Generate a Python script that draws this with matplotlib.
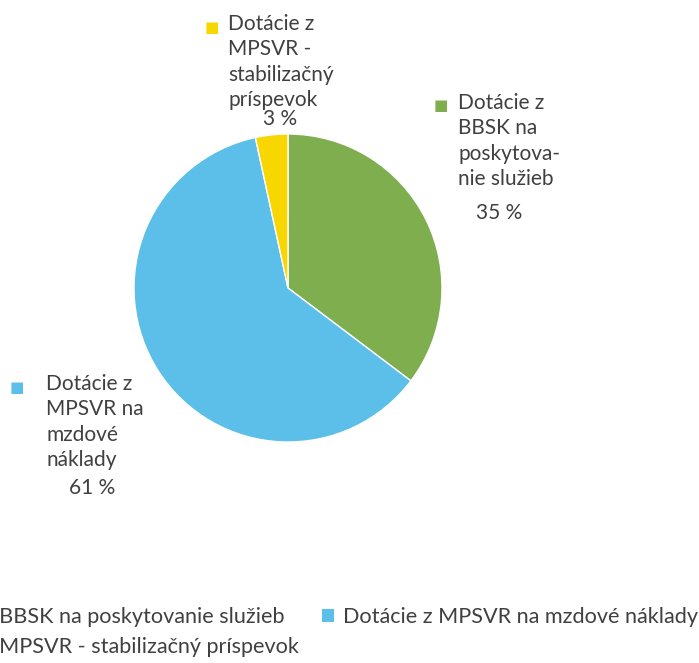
import matplotlib
matplotlib.use('Agg')
import matplotlib.pyplot as plt
from matplotlib import rcParams
from matplotlib.patches import Patch

rcParams['font.family'] = ['Lato', 'DejaVu Sans']
rcParams['font.size'] = 15

#%% data
names = ['Dotácie z BBSK na poskytovanie služieb',
         'Dotácie z MPSVR na mzdové náklady',
         'Dotácie z MPSVR - stabilizačný príspevok']
label_lines = ['Dotácie z\nBBSK na\nposkytova-\nnie služieb',
               'Dotácie z\nMPSVR na\nmzdové\nnáklady',
               'Dotácie z\nMPSVR -\nstabilizačný\npríspevok']
shares = [35.3, 61.3, 3.4]
colors = ['#7fae4f', '#5bbfe9', '#f8d700']
txt_col = '#404040'

W, H = 699, 663
fig = plt.figure(figsize=(W / 100, H / 100), dpi=100)

def px(x, y):
      # pixel (top-left origin) -> figure fraction
      return x / W, 1 - y / H

# pie axes: centre (288, 288), radius 154 px
cx, cy, r = 288, 288, 154
ax = fig.add_axes([(cx - r) / W, (H - cy - r) / H, 2 * r / W, 2 * r / H])
ax.pie(shares, colors=colors, startangle=90, counterclock=False,
       wedgeprops=dict(edgecolor='white', linewidth=1))
ax.set_xlim(-1, 1)
ax.set_ylim(-1, 1)
ax.set_aspect('auto')
ax.axis('off')

# data labels: text left x, first line centre y, marker x, value centre (x, y)
lab_pos = [(458, 106, 441, 499, 213),
           (46, 387, 17, 92, 488),
           (228, 27, 212, 280, 119)]
for i in range(len(shares)):
      tx, ty, mx, vx, vy = lab_pos[i]
      fx, fy = px(tx, ty - 13)
      fig.text(fx, fy, label_lines[i], ha='left', va='top', color=txt_col,
               linespacing=1.34)
      mfx, mfy = px(mx, ty)
      fig.text(mfx, mfy, '■', ha='center', va='center', color=colors[i],
               fontsize=11, family='DejaVu Sans')
      vfx, vfy = px(vx, vy)
      fig.text(vfx, vfy, '%d %%' % round(shares[i]),
               ha='center', va='center', color=txt_col)

# legend (row-major like the original, cut off at the left)
order = [0, 2, 1]
handles = [Patch(facecolor=colors[k], edgecolor='none') for k in order]
leg = fig.legend(handles, [names[k] for k in order], ncol=2,
                 loc='center left', bbox_to_anchor=px(-117, 632),
                 frameon=False, handlelength=0.55, handleheight=0.55,
                 handletextpad=0.4, columnspacing=1.1, labelspacing=0.45,
                 borderaxespad=0, borderpad=0, fontsize=15.6)
for t in leg.get_texts():
      t.set_color(txt_col)

fig.savefig('out.png', dpi=100, facecolor='white')
